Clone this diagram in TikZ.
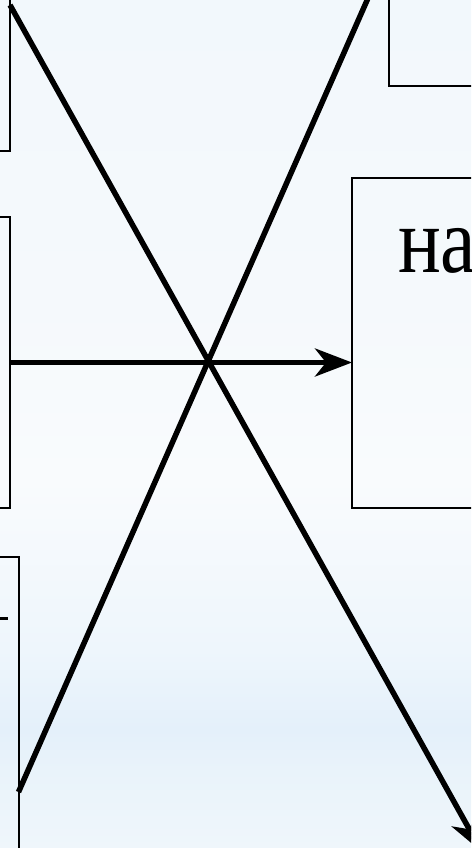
\documentclass[tikz,border=0pt]{standalone}
\usepackage{fontspec}
\newfontfamily\serifcyr{Liberation Serif}
\usetikzlibrary{arrows.meta}
\definecolor{bgtop}{RGB}{242,248,252}
\definecolor{bgm2}{RGB}{245,249,252}
\definecolor{bgwhite}{RGB}{249,251,253}
\definecolor{bgm1}{RGB}{238,246,252}
\definecolor{bgband}{RGB}{228,240,250}
\definecolor{bgb2}{RGB}{233,243,250}
\definecolor{bgbot}{RGB}{239,246,251}
\pgfdeclareverticalshading{bgshade}{100bp}{color(0bp)=(bgbot); color(25bp)=(bgbot); color(29.6bp)=(bgb2); color(32bp)=(bgband); color(36.7bp)=(bgm1); color(46.7bp)=(bgwhite); color(57.3bp)=(bgm2); color(75bp)=(bgtop); color(100bp)=(bgtop)}
\begin{document}
\begin{tikzpicture}[x=1pt,y=-1pt,
  box/.style={draw=black,line width=2pt,inner sep=0pt,outer sep=0pt,anchor=north west},
  link/.style={draw=black,line width=5.5pt},
  tip/.style={-{Stealth[length=37pt,width=28pt,inset=11pt]}},
  lbl/.style={inner sep=0pt,outer sep=0pt,anchor=base west,font=\serifcyr\fontsize{94}{100}\selectfont}]
\useasboundingbox (0,0) rectangle (471,848);
\shade[shading=bgshade] (0,0) rectangle (471,848);
\begin{scope}
\clip (0,0) rectangle (471,848);
\node[box,minimum width=210pt,minimum height=251pt] (TL) at (-200,-100) {};
\node[box,minimum width=210pt,minimum height=291pt] (ML) at (-200,217) {};
\node[box,minimum width=218.5pt,minimum height=400pt] (BL) at (-200,556.5) {};
\node[box,minimum width=300pt,minimum height=186pt] (TR) at (389,-100) {};
\node[box,minimum width=300pt,minimum height=330pt] (MR) at (352,178) {};
\node[lbl] (txt) at (398,272) {\scalebox{0.85}[1]{на}};
\coordinate (y1) at (0,5);
\coordinate (y2) at (0,792);
\coordinate (e1) at (482,852);
\coordinate (e2) at (376,-20);
\draw[link,tip] (TL.east |- y1) -- (e1);
\draw[link] (BL.east |- y2) -- (e2);
\draw[link,tip] (ML.east) -- (ML.east -| MR.west);
\coordinate (k1) at (-5,618);
\coordinate (k2) at (8,618);
\draw[line width=3pt] (k1) -- (k2);
\end{scope}
\end{tikzpicture}
\end{document}
